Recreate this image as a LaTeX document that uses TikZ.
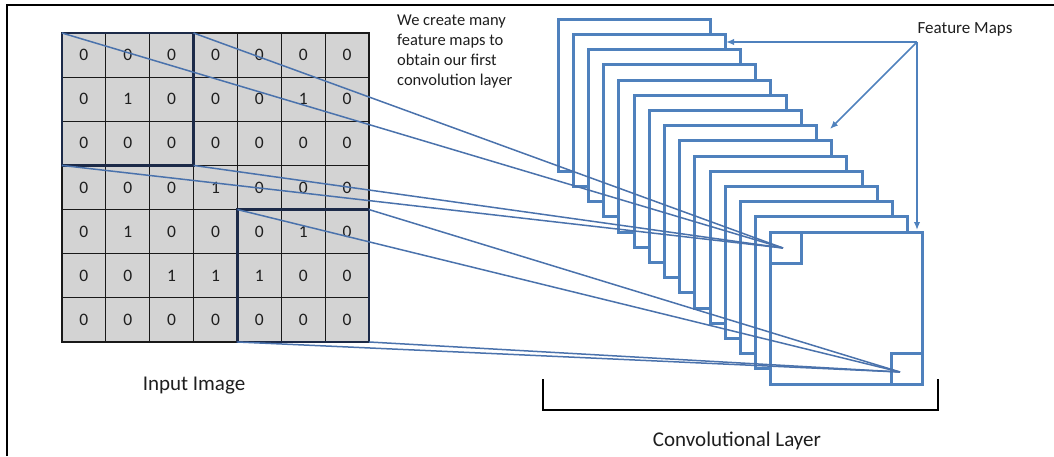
\documentclass[tikz,border=0pt]{standalone}
\usepackage{fontspec}
\setmainfont{Carlito}
\usetikzlibrary{arrows.meta,fit}
\definecolor{mapblue}{HTML}{4F81BD}
\definecolor{linkblue}{HTML}{4A72AC}
\definecolor{navy}{HTML}{1C2A48}
\definecolor{cellgray}{HTML}{D3D3D3}
\definecolor{txt}{HTML}{1E1E1E}
\tikzset{
  frameline/.style={line width=1.8pt, black},
  cellbox/.style={draw=black!90, line width=1.1pt, fill=cellgray, minimum width=43.86pt,
    minimum height=44.14pt, inner sep=0pt, outer sep=0pt, text=txt,
    font=\fontsize{17.5}{17.5}\selectfont},
  hlbox/.style={draw=navy, line width=2.4pt, inner sep=0pt, outer sep=0pt},
  mapbox/.style={draw=mapblue, line width=3pt, fill=white, inner sep=0pt, outer sep=0pt},
  link/.style={draw=linkblue, line width=1.5pt},
  ptr/.style={draw=mapblue, line width=1.6pt, -{Latex[length=8pt,width=6.5pt]}},
  bracketline/.style={draw=black, line width=1.6pt},
  label/.style={text=txt, inner sep=0pt},
}
\begin{document}
\begin{tikzpicture}[x=1pt,y=-1pt]
\useasboundingbox (0,0) rectangle (1054,456);
% frame
\coordinate (f0) at (7,456);
\coordinate (f1) at (1054,5);
\draw[frameline] (f0) |- (f1);
% input grid
\foreach \row [count=\r from 0] in {{0,0,0,0,0,0,0},{0,1,0,0,0,1,0},{0,0,0,0,0,0,0},{0,0,0,1,0,0,0},{0,1,0,0,0,1,0},{0,0,1,1,1,0,0},{0,0,0,0,0,0,0}}{
  \foreach \v [count=\c from 0] in \row {
    \node[cellbox] (c-\r-\c) at ({62+43.86*(\c+0.5)},{33+44.14*(\r+0.5)}) {\v};
  }
}
\node[hlbox, fit=(c-0-0)(c-2-2)] (hbA) {};
\node[hlbox, fit=(c-4-4)(c-6-6)] (hbB) {};
% feature maps
\foreach \i in {0,...,14}{
  \node[mapbox, minimum size=152pt] (m\i) at ({634+15.2*\i},{95.3+15.2*\i}) {};
}
\node[mapbox, minimum size=31pt, anchor=north west] (sqA) at (m14.north west) {};
\node[mapbox, minimum size=31pt, anchor=south east] (sqB) at (m14.south east) {};
\coordinate (pA) at (783,248);
\coordinate (pB) at (900,372);
% connectors
\draw[link] (hbA.north west) -- (pA);
\draw[link] (hbA.north east) -- (pA);
\draw[link] (hbA.south west) -- (pA);
\draw[link] (hbA.south east) -- (pA);
\draw[link] (hbB.north west) -- (pB);
\draw[link] (hbB.north east) -- (pB);
\draw[link] (hbB.south west) -- (pB);
\draw[link] (hbB.south east) -- (pB);
% texts
\node[label, anchor=north west, align=left, font=\fontsize{16.5}{20}\selectfont] (note) at (397,15)
  {We create many\\feature maps to\\obtain our first\\convolution layer};
\node[label, font=\fontsize{17}{17}\selectfont] (fm) at (965,29) {Feature Maps};
\node[label, font=\fontsize{21}{21}\selectfont] (inp) at (194,386) {Input Image};
\node[label, font=\fontsize{21}{21}\selectfont] (conv) at (737,441) {Convolutional Layer};
% arrows
\coordinate (fo) at (917,42);
\coordinate (t1) at (726,42);
\coordinate (t2) at (830,129);
\coordinate (t3) at (917,230);
\draw[ptr] (fo) -- (t1);
\draw[ptr] (fo) -- (t2);
\draw[ptr] (fo) -- (t3);
% bracket
\coordinate (bl) at (543,379);
\coordinate (br) at (938,379);
\draw[bracketline] (bl) -- ++(0,31) -| (br);
\end{tikzpicture}
\end{document}
